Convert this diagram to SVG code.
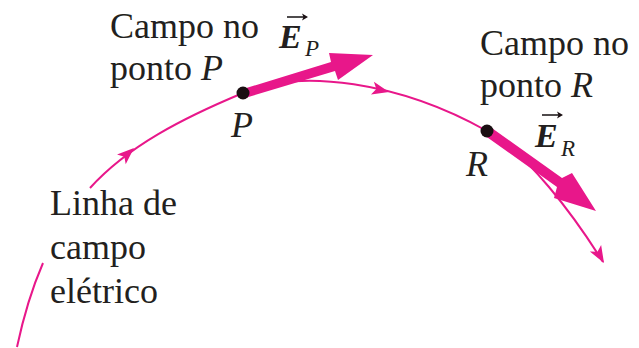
<svg xmlns="http://www.w3.org/2000/svg" width="639" height="348" viewBox="0 0 639 348">
<style>
text{font-family:"Liberation Serif","DejaVu Serif",serif;font-size:36px;fill:#231f20}
.i{font-style:italic}
.ev{font-style:italic;font-weight:bold;font-size:34px}
.sub{font-style:italic;font-size:23px}
.line{fill:none;stroke:#e8178a;stroke-width:2}
.pink{fill:#e8178a}
.dark{fill:#1a0f12}
.vec{stroke:#231f20;stroke-width:1.6;fill:none}
</style>
<defs>
<polygon id="ah" points="0,0 -17,-6.5 -13,0 -17,6.5"/>
<polygon id="ovh" points="0,0 -6,-3.5 -4.5,0 -6,3.5"/>
</defs>
<g id="connectors">
<path class="line" d="M17,347 Q27,300 43,263"/>
<path class="line" d="M90,188 C128,146 183,118 243,93 C300,68 400,82 487,131 C527,153 573,214 603,262"/>
<use href="#ah" class="pink" transform="translate(134,148) rotate(-42)"/>
<use href="#ah" class="pink" transform="translate(389,92) rotate(13)"/>
<use href="#ah" class="pink" transform="translate(604,263) rotate(60)"/>
</g>
<g id="vector-EP">
<path class="pink" d="M243,89 L331,62 L329,53 L373,55 L338,80 L335,71 L245,98 Z"/>
</g>
<g id="vector-ER">
<path class="pink" d="M489,126 L562,178 L572,173 L596,211 L554,198 L557,187 L484,135 Z"/>
</g>
<g id="point-P">
<circle class="dark" cx="243" cy="93" r="6.5"/>
<text class="i" x="231" y="137">P</text>
</g>
<g id="point-R">
<circle class="dark" cx="487" cy="131" r="6.5"/>
<text class="i" x="466" y="176">R</text>
</g>
<g id="label-campo-P">
<text x="110" y="38">Campo no</text>
<text x="110" y="80">ponto <tspan class="i">P</tspan></text>
</g>
<g id="label-campo-R">
<text x="480" y="55">Campo no</text>
<text x="480" y="97">ponto <tspan class="i">R</tspan></text>
</g>
<g id="label-linha">
<text x="50" y="215">Linha de</text>
<text x="50" y="259">campo</text>
<text x="50" y="303">elétrico</text>
</g>
<g id="label-EP">
<text class="ev" x="279" y="48">E</text>
<text class="sub" x="305" y="56">P</text>
<line class="vec" x1="287" y1="17" x2="304" y2="17"/>
<use href="#ovh" class="dark" transform="translate(308,17)"/>
</g>
<g id="label-ER">
<text class="ev" x="535" y="147">E</text>
<text class="sub" x="561" y="156">R</text>
<line class="vec" x1="542" y1="115" x2="559" y2="115"/>
<use href="#ovh" class="dark" transform="translate(563,115)"/>
</g>
</svg>
